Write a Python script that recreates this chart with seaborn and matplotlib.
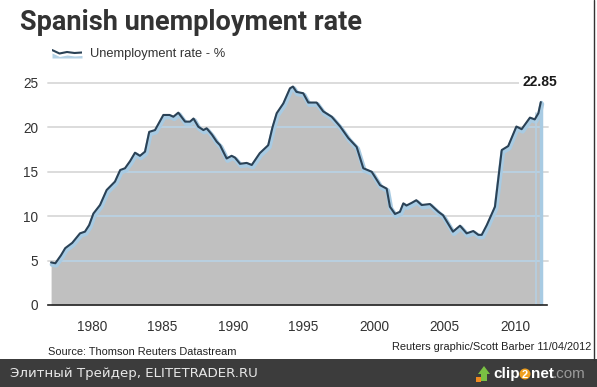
import numpy as np
import matplotlib
matplotlib.use("Agg")
import matplotlib.pyplot as plt
import matplotlib.transforms as mtransforms
from matplotlib.patches import Ellipse, Polygon
import seaborn as sns

# Spanish unemployment rate, %
years = [1977.1, 1977.4, 1977.8, 1978.1, 1978.6, 1979.15, 1979.5, 1979.8,
         1980.1, 1980.57, 1981.04, 1981.63, 1982.0, 1982.34, 1982.7, 1983.05,
         1983.4, 1983.76, 1984.06, 1984.47, 1985.06, 1985.5, 1985.77, 1986.12,
         1986.6, 1986.95, 1987.2, 1987.54, 1987.9, 1988.13, 1988.5, 1988.84,
         1989.08, 1989.55, 1989.9, 1990.14, 1990.5, 1990.97, 1991.33, 1991.9,
         1992.5, 1992.8, 1993.1, 1993.57, 1994.04, 1994.25, 1994.5, 1994.98,
         1995.34, 1995.93, 1996.4, 1997.0, 1997.6, 1998.18, 1998.77, 1999.24,
         1999.84, 2000.43, 2000.9, 2001.13, 2001.49, 2001.84, 2002.08, 2002.3,
         2002.67, 2003.0, 2003.38, 2003.97, 2004.56, 2004.9, 2005.6, 2006.1,
         2006.57, 2007.04, 2007.4, 2007.64, 2008.0, 2008.58, 2009.06, 2009.52,
         2010.1, 2010.47, 2011.06, 2011.4, 2011.66, 2011.83]
rate = [4.8, 4.7, 5.6, 6.4, 7.0, 8.07, 8.26, 9.0,
        10.3, 11.26, 12.95, 13.9, 15.2, 15.4, 16.2, 17.15,
        16.8, 17.27, 19.5, 19.7, 21.4, 21.4, 21.2, 21.66,
        20.65, 20.65, 21.0, 20.08, 19.7, 19.9, 19.2, 18.4,
        18.0, 16.5, 16.8, 16.6, 15.9, 16.0, 15.77, 17.1,
        18.0, 20.0, 21.6, 22.7, 24.4, 24.6, 24.0, 23.85,
        22.8, 22.8, 21.8, 21.2, 20.1, 18.8, 17.8, 15.4,
        15.0, 13.5, 13.1, 11.07, 10.25, 10.5, 11.45, 11.2,
        11.5, 11.8, 11.26, 11.37, 10.5, 10.1, 8.26, 8.93,
        8.07, 8.33, 7.9, 7.9, 9.0, 11.07, 17.45, 17.9,
        20.1, 19.8, 21.1, 20.9, 21.6, 22.85]
yticks = [0, 5, 10, 15, 20, 25]
xticks = [1980, 1985, 1990, 1995, 2000, 2005, 2010]
last_label = "22.85"

sns.set_style("white")
plt.rcParams["font.family"] = ["Liberation Sans", "DejaVu Sans"]

W, H = 597, 387
fig = plt.figure(figsize=(W / 100, H / 100), dpi=100)

# axes box in pixel coords of the reference
left, right, bottom, top = 48, 547, 305, 75
ax = fig.add_axes([left / W, (H - bottom) / H, (right - left) / W, (bottom - top) / H])
ax.set_xlim(1976.88, 2012.27)
ax.set_ylim(0, (bottom - top) / 8.88)

# grid behind everything
for v in yticks[1:]:
    xe = 2010.3 if v == 25 else 2012.35
    ax.plot([1976.88, xe], [v, v], color="#dcdcdc", lw=1.4, zorder=0, clip_on=False)

fill = ax.fill_between(years, rate, 0, color="#c0c0c0", lw=0, zorder=1)
# gridlines seen through the grey area look pale blue
clip = fill.get_paths()[0]
for v in yticks[1:]:
    gl, = ax.plot([1976.88, 2012.27], [v, v], color="#b9d0e0", lw=1.4, zorder=2)
    gl.set_clip_path(clip, transform=ax.transData)

# light blue shadow under the line
shadow = mtransforms.offset_copy(ax.transData, fig=fig, x=1.0, y=-2.0, units="dots")
ax.plot(years, rate, color="#a8cbe3", lw=3.5, transform=shadow, zorder=3,
        solid_joinstyle="round")
ax.plot([years[-1], years[-1]], [0, rate[-1]], color="#a8cbe3", lw=2.5, zorder=3)
ax.plot([years[-1] - 0.35, years[-1] - 0.35], [0, rate[-1] - 1.2], color="#b4cfe2", lw=1.2, zorder=3)
# main line
sns.lineplot(x=years, y=rate, ax=ax, color="#2b4256", lw=1.5, zorder=4, sort=False)

ax.annotate(last_label, xy=(years[-1], 25), xytext=(-1, 1), textcoords="offset points",
            ha="center", va="center", fontsize=10, fontweight="bold", color="#1a1a1a",
            bbox=dict(boxstyle="square,pad=0.2", fc="white", ec="none"), zorder=6,
            annotation_clip=False)

for s in ["top", "right", "left"]:
    ax.spines[s].set_visible(False)
ax.spines["bottom"].set_color("#222222")
ax.spines["bottom"].set_linewidth(1.2)
ax.spines["bottom"].set_zorder(5)

ax.set_yticks(yticks)
ax.set_yticklabels([str(v) for v in yticks])
ax.set_xticks(xticks)
ax.set_xticklabels([str(v) for v in xticks])
ax.tick_params(axis="y", length=0, pad=7, labelsize=9.8, labelcolor="#333333")
ax.tick_params(axis="x", length=5, width=1, color="#222222", direction="out",
               pad=6, labelsize=9.8, labelcolor="#333333")
ax.set_xlabel("")
ax.set_ylabel("")

# title and legend
fig.text(20 / W, 1 - 22 / H, "Spanish unemployment rate", fontsize=19.5, fontweight="bold",
         family=["Roboto", "Liberation Sans"], color="#333333", ha="left", va="center")
icon = fig.add_axes([52 / W, 1 - 58 / H, 30 / W, 10 / H])
ix = [0, 0.25, 0.5, 0.75, 1.0]
iy = [0.8, 0.45, 0.6, 0.5, 0.55]
icon.fill_between(ix, [v - 0.3 for v in iy], 0, color="#b4d2e6", lw=0)
icon.plot(ix, iy, color="#2b4256", lw=1.5)
icon.set_xlim(0, 1)
icon.set_ylim(0, 1)
icon.axis("off")
fig.text(90 / W, 1 - 54 / H, "Unemployment rate - %", fontsize=9.3, color="#333333",
         ha="left", va="center")

# credits
fig.text(48 / W, 1 - 352 / H, "Source: Thomson Reuters Datastream", fontsize=7.9,
         color="#222222", ha="left", va="center")
fig.text(591 / W, 1 - 347 / H, "Reuters graphic/Scott Barber 11/04/2012", fontsize=7.9,
         color="#222222", ha="right", va="center")

# right border line
fig.add_artist(plt.Line2D([594 / W, 594 / W], [1 - 360 / H, 1], color="#333333", lw=1))

# dark footer bar
bar = fig.add_axes([0, 0, 1, 28 / H])
bar.set_facecolor("#3c3c3c")
bar.set_xticks([])
bar.set_yticks([])
for s in bar.spines.values():
    s.set_visible(False)
fig.text(10 / W, 1 - 374 / H, "Элитный Трейдер, ELITETRADER.RU", fontsize=9.6,
         family="DejaVu Sans", color="#e8e8e8", ha="left", va="center")

# clip2net logo
fy = 1 - 374 / H
fig.add_artist(Polygon([[478 / W, 1 - 374 / H], [484 / W, 1 - 366 / H], [490 / W, 1 - 374 / H],
                        [487 / W, 1 - 374 / H], [487 / W, 1 - 381 / H], [481 / W, 1 - 381 / H],
                        [481 / W, 1 - 374 / H]], closed=True, fc="#7ac143", ec="none"))
fig.add_artist(Polygon([[476 / W, 1 - 377 / H], [481 / W, 1 - 377 / H], [481 / W, 1 - 382 / H],
                        [476 / W, 1 - 382 / H]], closed=True, fc="#f08a20", ec="none"))
fig.text(493 / W, fy, "clip", fontsize=11, fontweight="bold", color="white",
         ha="left", va="center")
fig.add_artist(Ellipse((525 / W, fy), 11 / W, 11 / H, fc="#f0a020", ec="none"))
fig.text(531 / W, fy, "net", fontsize=11, fontweight="bold", color="white",
         ha="left", va="center")
fig.text(553 / W, fy, ".com", fontsize=11, color="#9a9a9a",
         ha="left", va="center")
fig.text(525 / W, fy - 0.5 / H, "2", fontsize=8, fontweight="bold", color="white",
         ha="center", va="center")

fig.savefig("out.png", dpi=100, facecolor="white")
